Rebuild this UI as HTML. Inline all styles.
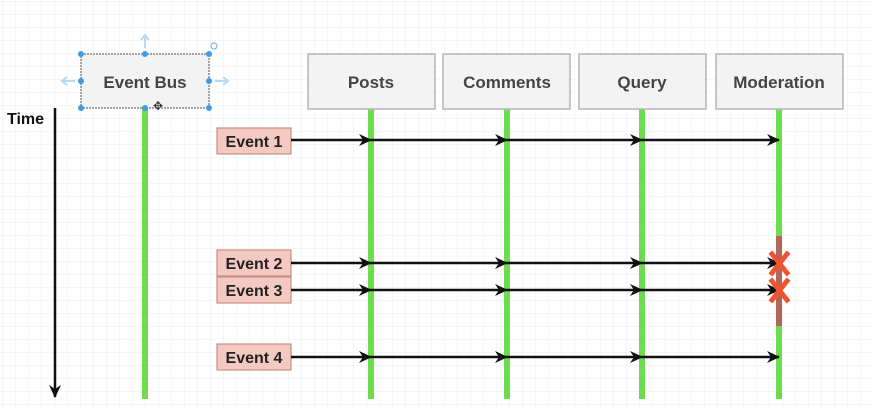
<!DOCTYPE html>
<html><head><meta charset="utf-8"><style>
html,body{margin:0;padding:0;background:#fff;}
svg{display:block;font-family:"Liberation Sans",Arial,sans-serif;}
</style></head><body>
<svg width="872" height="409" viewBox="0 0 872 409" xmlns="http://www.w3.org/2000/svg">
<defs>
<pattern id="g" width="13" height="13" patternUnits="userSpaceOnUse" x="3" y="2">
<path d="M13 0V13M0 13H13" stroke="#ececec" stroke-width="1" fill="none"/>
</pattern>
<marker id="ah" markerWidth="14" markerHeight="12" refX="12" refY="6" orient="auto" markerUnits="userSpaceOnUse">
<path d="M0,0 L13,6 L0,12 L4,6 Z" fill="#111"/>
</marker>
</defs>
<rect width="872" height="409" fill="#fff"/>
<rect width="872" height="409" fill="url(#g)"/>

<!-- lifelines -->
<g fill="#6fdc4f">
<rect x="142" y="109" width="6" height="290"/>
<rect x="368" y="109" width="6" height="290"/>
<rect x="504" y="109" width="6" height="290"/>
<rect x="639" y="109" width="6" height="290"/>
<rect x="776" y="109" width="6" height="290"/>
</g>
<rect x="776" y="236" width="6" height="90" fill="#b3655a"/>

<!-- boxes -->
<g fill="#f3f3f3" stroke="#b5b5b5" stroke-width="1.5">
<rect x="308" y="54" width="127" height="55"/>
<rect x="443" y="54" width="127" height="55"/>
<rect x="579" y="54" width="127" height="55"/>
<rect x="716" y="54" width="127" height="55"/>
<rect x="81" y="54" width="128" height="54" stroke="#888" stroke-dasharray="2,1"/>
</g>
<g font-size="17" font-weight="bold" fill="#444" text-anchor="middle">
<text x="145" y="88">Event Bus</text>
<text x="371" y="88">Posts</text>
<text x="507" y="88">Comments</text>
<text x="642" y="88">Query</text>
<text x="779" y="88">Moderation</text>
</g>
<!-- selection handles -->
<g fill="#3d9be9">
<circle cx="81" cy="54" r="3"/><circle cx="145" cy="54" r="3"/><circle cx="209" cy="54" r="3"/>
<circle cx="81" cy="81" r="3"/><circle cx="209" cy="81" r="3"/>
<circle cx="81" cy="108" r="3"/><circle cx="145" cy="108" r="3"/><circle cx="209" cy="108" r="3"/>
</g>
<g stroke="#b8d8f5" stroke-width="2" fill="none">
<path d="M145 48V36M141 40L145 35L149 40"/>
<path d="M75 81H63M67 77L62 81L67 85"/>
<path d="M215 81H227M223 77L228 81L223 85"/>
</g>
<circle cx="214" cy="46" r="3" fill="none" stroke="#7ab8ec" stroke-width="1.2"/>
<text x="158" y="110" font-size="12" text-anchor="middle" fill="#333">✥</text>

<!-- time -->
<text x="7" y="124" font-size="16" font-weight="bold" fill="#111">Time</text>
<line x1="55" y1="108" x2="55" y2="397" stroke="#111" stroke-width="2.5" marker-end="url(#ah)"/>

<!-- events -->
<g fill="#f4c9c1" stroke="#c98e84" stroke-width="1.2">
<rect x="217" y="128" width="74" height="26"/>
<rect x="217" y="250" width="74" height="26"/>
<rect x="217" y="277" width="74" height="26"/>
<rect x="217" y="344" width="74" height="26"/>
</g>
<g font-size="16" font-weight="bold" fill="#222" text-anchor="middle">
<text x="254" y="147">Event 1</text>
<text x="254" y="269">Event 2</text>
<text x="254" y="296">Event 3</text>
<text x="254" y="363">Event 4</text>
</g>
<g stroke="#111" stroke-width="2.5" marker-end="url(#ah)">
<line x1="291" y1="140" x2="371" y2="140"/><line x1="371" y1="140" x2="507" y2="140"/><line x1="507" y1="140" x2="642" y2="140"/><line x1="642" y1="140" x2="779" y2="140"/>
<line x1="291" y1="263" x2="371" y2="263"/><line x1="371" y1="263" x2="507" y2="263"/><line x1="507" y1="263" x2="642" y2="263"/><line x1="642" y1="263" x2="779" y2="263"/>
<line x1="291" y1="290" x2="371" y2="290"/><line x1="371" y1="290" x2="507" y2="290"/><line x1="507" y1="290" x2="642" y2="290"/><line x1="642" y1="290" x2="779" y2="290"/>
<line x1="291" y1="357" x2="371" y2="357"/><line x1="371" y1="357" x2="507" y2="357"/><line x1="507" y1="357" x2="642" y2="357"/><line x1="642" y1="357" x2="779" y2="357"/>
</g>
<g stroke="#ef5432" stroke-width="5" stroke-linecap="square">
<path d="M772 254L787 273M787 254L772 273"/>
<path d="M772 281L787 300M787 281L772 300"/>
</g>
</svg>
</body></html>
